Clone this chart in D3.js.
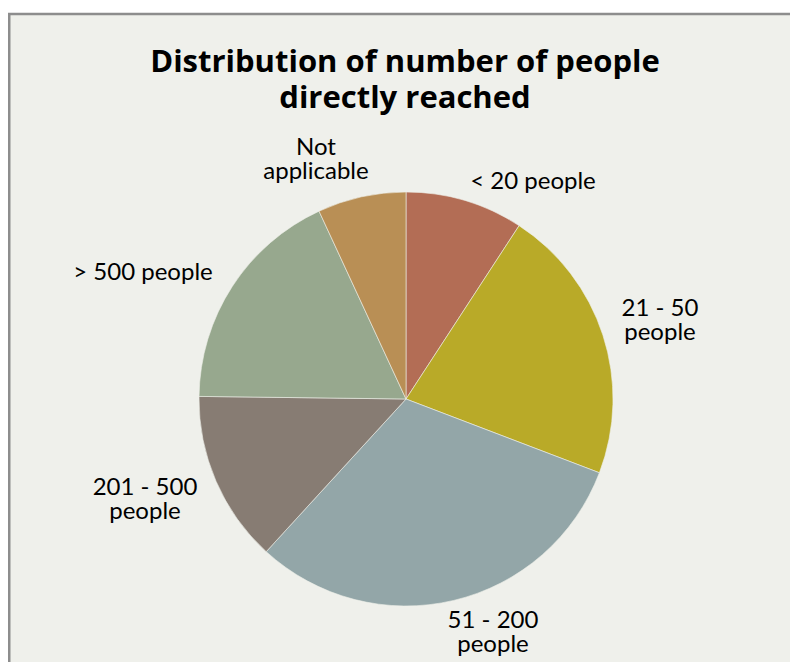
<!DOCTYPE html>
<html>
<head>
<meta charset="utf-8">
<script src="https://cdn.jsdelivr.net/npm/d3@7"></script>
<style>
  html, body { margin: 0; padding: 0; background: #ffffff; }
  svg { display: block; }
</style>
</head>
<body>
<svg id="chart" width="790" height="662"></svg>
<script>
// Share of respondents by number of people directly reached (%)
const categories = ["< 20 people", "21 - 50 people", "51 - 200 people", "201 - 500 people", "> 500 people", "Not applicable"];
const values = [9.2, 21.6, 31.0, 13.4, 17.9, 6.9];
const colors = ["#b36d55", "#b9aa28", "#93a6a8", "#877c73", "#97a88e", "#b98f55"];
// Label text broken into lines as shown next to each slice
const labelLines = [["< 20 people"], ["21 - 50", "people"], ["51 - 200", "people"], ["201 - 500", "people"], ["> 500 people"], ["Not", "applicable"]];

const titleLines = ["Distribution of number of people", "directly reached"];

const W = 790, H = 662;
const cx = 406, cy = 399, radius = 207;

const svg = d3.select("#chart");

// chart area with grey frame (extends past the right and bottom edges)
svg.append("rect")
  .attr("x", 9.25).attr("y", 14)
  .attr("width", W + 20).attr("height", H + 20)
  .attr("fill", "#eff0eb")
  .attr("stroke", "#8d8d8d")
  .attr("stroke-width", 2.5);

// title
const title = svg.append("text")
  .attr("text-anchor", "middle")
  .attr("font-family", "'Open Sans', Lato, sans-serif")
  .attr("font-weight", "bold")
  .attr("font-size", 31)
  .attr("fill", "#000");
title.selectAll("tspan").data(titleLines).join("tspan")
  .attr("x", 405)
  .attr("y", (d, i) => 72 + i * 35.5)
  .text(d => d);

const data = categories.map((c, i) => ({ name: c, value: values[i], color: colors[i], lines: labelLines[i] }));

const pie = d3.pie().value(d => d.value).sort(null);
const arc = d3.arc().innerRadius(0).outerRadius(radius);

const g = svg.append("g").attr("transform", `translate(${cx},${cy})`);
const arcs = pie(data);

g.selectAll("path").data(arcs).join("path")
  .attr("d", arc)
  .attr("fill", d => d.data.color)
  .attr("stroke", "#eef0ea")
  .attr("stroke-width", 0.6);

// label anchors (centre of text block, first baseline) relative to pie centre
const labelOffsets = [[127, -210], [254, -83], [87, 229], [-261, 96], [-263, -119], [-90, -244]];

const labels = svg.append("g")
  .attr("font-family", "Lato, 'Open Sans', sans-serif")
  .attr("font-size", 24)
  .attr("fill", "#000")
  .attr("text-anchor", "middle");

labels.selectAll("text").data(arcs).join("text")
  .each(function(d, i) {
    const [dx, dy] = labelOffsets[i];
    d3.select(this).selectAll("tspan").data(d.data.lines).join("tspan")
      .attr("x", cx + dx)
      .attr("y", (t, j) => cy + dy + j * 24)
      .text(t => t);
  });
</script>
</body>
</html>
